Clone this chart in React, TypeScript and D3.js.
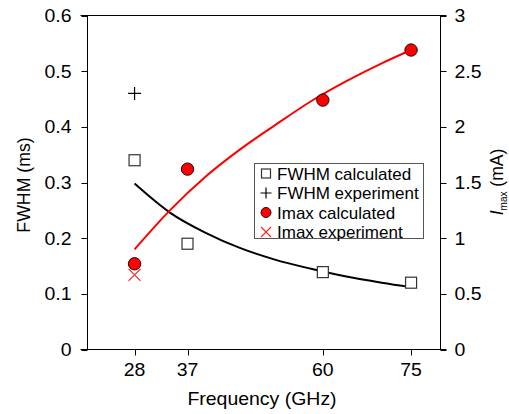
import * as d3 from 'd3'
import React from 'react'

// frequencies (GHz)
const freqs = [28, 37, 60, 75]
const fwhmCalc = [0.34, 0.19, 0.139, 0.12]
const imaxCalc = [0.77, 1.62, 2.24, 2.69]
const fwhmExpFreq = [28]
const fwhmExp = [0.46]
const imaxExpFreq = [28]
const imaxExp = [0.67]

// fitted curves
const fitFreq = [28, 34, 40, 46, 52, 58, 64, 70, 75]
const fwhmFit = [0.298, 0.246, 0.21, 0.182, 0.161, 0.145, 0.131, 0.12, 0.112]
const imaxFit = [0.9, 1.25, 1.55, 1.8, 2.02, 2.23, 2.41, 2.57, 2.69]

const xTicks = [28, 37, 60, 75]
const leftTicks = [0, 0.1, 0.2, 0.3, 0.4, 0.5, 0.6]
const rightTicks = [0, 0.5, 1, 1.5, 2, 2.5, 3]

const W = 509
const H = 414
const margin = { left: 87.5, right: 440.5, top: 15.5, bottom: 349.5 }
const FONT = '"Liberation Sans", Arial, sans-serif'
const TICK_STRETCH = 1.1

const x = d3.scaleLinear().domain([20, 80]).range([margin.left, margin.right])
const yL = d3.scaleLinear().domain([0, 0.6]).range([margin.bottom, margin.top])
const yR = d3.scaleLinear().domain([0, 3]).range([margin.bottom, margin.top])

const Square = ({ cx, cy, s = 11 }) => (
  <rect x={cx - s / 2} y={cy - s / 2} width={s} height={s} fill="#fff" stroke="#333" strokeWidth={1.2} />
)
const Plus = ({ cx, cy, s = 6.5 }) => (
  <path d={`M${cx - s},${cy}H${cx + s}M${cx},${cy - s}V${cy + s}`} stroke="#000" strokeWidth={1.2} fill="none" />
)
const Cross = ({ cx, cy, s = 6 }) => (
  <path
    d={`M${cx - s},${cy - s}L${cx + s},${cy + s}M${cx - s},${cy + s}L${cx + s},${cy - s}`}
    stroke="#ff2020"
    strokeWidth={1.1}
    fill="none"
  />
)
const Dot = ({ cx, cy, r = 6.2 }) => <circle cx={cx} cy={cy} r={r} fill="#ff0000" stroke="#000" strokeWidth={0.9} />

export default function App() {
  const fwhmLine = d3
    .line<number>()
    .x((d, i) => x(fitFreq[i]))
    .y(d => yL(d))
    .curve(d3.curveMonotoneX)(fwhmFit)
  const imaxLine = d3
    .line<number>()
    .x((d, i) => x(fitFreq[i]))
    .y(d => yR(d))
    .curve(d3.curveMonotoneX)(imaxFit)

  const legendItems = [
    { label: 'FWHM calculated', sym: 'square' },
    { label: 'FWHM experiment', sym: 'plus' },
    { label: 'Imax calculated', sym: 'dot' },
    { label: 'Imax experiment', sym: 'cross' },
  ]
  const lg = { x: 254.5, y: 163.5, w: 169, h: 75 }

  return (
    <svg width={W} height={H} style={{ position: 'absolute', left: 0, top: 0, background: '#fff' }} fontFamily={FONT}>
      {/* frame */}
      <path
        d={`M${margin.left - 7},${margin.top}H${margin.right + 6}M${margin.left - 7},${margin.bottom}H${margin.right + 6}M${margin.left},${margin.top}V${margin.bottom}M${margin.right},${margin.top}V${margin.bottom}`}
        stroke="#000"
        fill="none"
      />
      {/* left axis */}
      {leftTicks.map(t => (
        <g key={'l' + t}>
          <line x1={margin.left - 6} x2={margin.left} y1={Math.round(yL(t)) + 0.5} y2={Math.round(yL(t)) + 0.5} stroke="#000" />
          <text
            transform={`translate(${margin.left - 16},${yL(t)}) scale(${TICK_STRETCH},1)`}
            textAnchor="end"
            dy="0.36em"
            fontSize={17.7}
          >
            {t}
          </text>
        </g>
      ))}
      {/* right axis */}
      {rightTicks.map(t => (
        <g key={'r' + t}>
          <line x1={margin.right} x2={margin.right + 6} y1={Math.round(yR(t)) + 0.5} y2={Math.round(yR(t)) + 0.5} stroke="#000" />
          <text
            transform={`translate(${margin.right + 14},${yR(t)}) scale(${TICK_STRETCH},1)`}
            textAnchor="start"
            dy="0.36em"
            fontSize={17.7}
          >
            {t}
          </text>
        </g>
      ))}
      {/* bottom axis */}
      {xTicks.map(t => (
        <g key={'x' + t}>
          <line x1={Math.round(x(t)) + 0.5} x2={Math.round(x(t)) + 0.5} y1={margin.bottom} y2={margin.bottom + 6} stroke="#000" />
          <text transform={`translate(${x(t)},${376}) scale(${TICK_STRETCH},1)`} textAnchor="middle" fontSize={17.7}>
            {t}
          </text>
        </g>
      ))}
      <text transform={`translate(262,405) scale(${TICK_STRETCH},1)`} textAnchor="middle" fontSize={17.7}>
        Frequency (GHz)
      </text>
      <text transform="translate(30,185) rotate(-90)" textAnchor="middle" fontSize={17.7}>
        FWHM (ms)
      </text>
      <text transform="translate(503,182) rotate(-90)" textAnchor="middle" fontSize={17.5}>
        <tspan fontStyle="italic">I</tspan>
        <tspan fontSize={10} dy={3.5}>
          max
        </tspan>
        <tspan dy={-3.5}> (mA)</tspan>
      </text>

      {/* fitted curves */}
      <path d={fwhmLine || ''} fill="none" stroke="#000" strokeWidth={2} />
      <path d={imaxLine || ''} fill="none" stroke="#ff0000" strokeWidth={2} />

      {/* points */}
      {freqs.map((f, i) => (
        <Square key={'s' + f} cx={x(f)} cy={yL(fwhmCalc[i])} />
      ))}
      {fwhmExpFreq.map((f, i) => (
        <Plus key={'p' + f} cx={x(f)} cy={yL(fwhmExp[i])} />
      ))}
      {imaxExpFreq.map((f, i) => (
        <Cross key={'c' + f} cx={x(f)} cy={yR(imaxExp[i])} />
      ))}
      {freqs.map((f, i) => (
        <Dot key={'d' + f} cx={x(f)} cy={yR(imaxCalc[i])} />
      ))}

      {/* legend */}
      <rect x={lg.x} y={lg.y} width={lg.w} height={lg.h} fill="#fff" stroke="#555" strokeWidth={1} />
      {legendItems.map((it, i) => {
        const cy = lg.y + 10 + i * 19.5
        const cx = 266
        return (
          <g key={it.label}>
            {it.sym === 'square' && <Square cx={cx} cy={cy} s={9} />}
            {it.sym === 'plus' && <Plus cx={cx} cy={cy} s={5.5} />}
            {it.sym === 'dot' && <Dot cx={cx} cy={cy} r={5} />}
            {it.sym === 'cross' && <Cross cx={cx} cy={cy} s={5} />}
            <text x={277} y={cy} dy="0.36em" fontSize={17}>
              {it.label}
            </text>
          </g>
        )
      })}
    </svg>
  )
}
